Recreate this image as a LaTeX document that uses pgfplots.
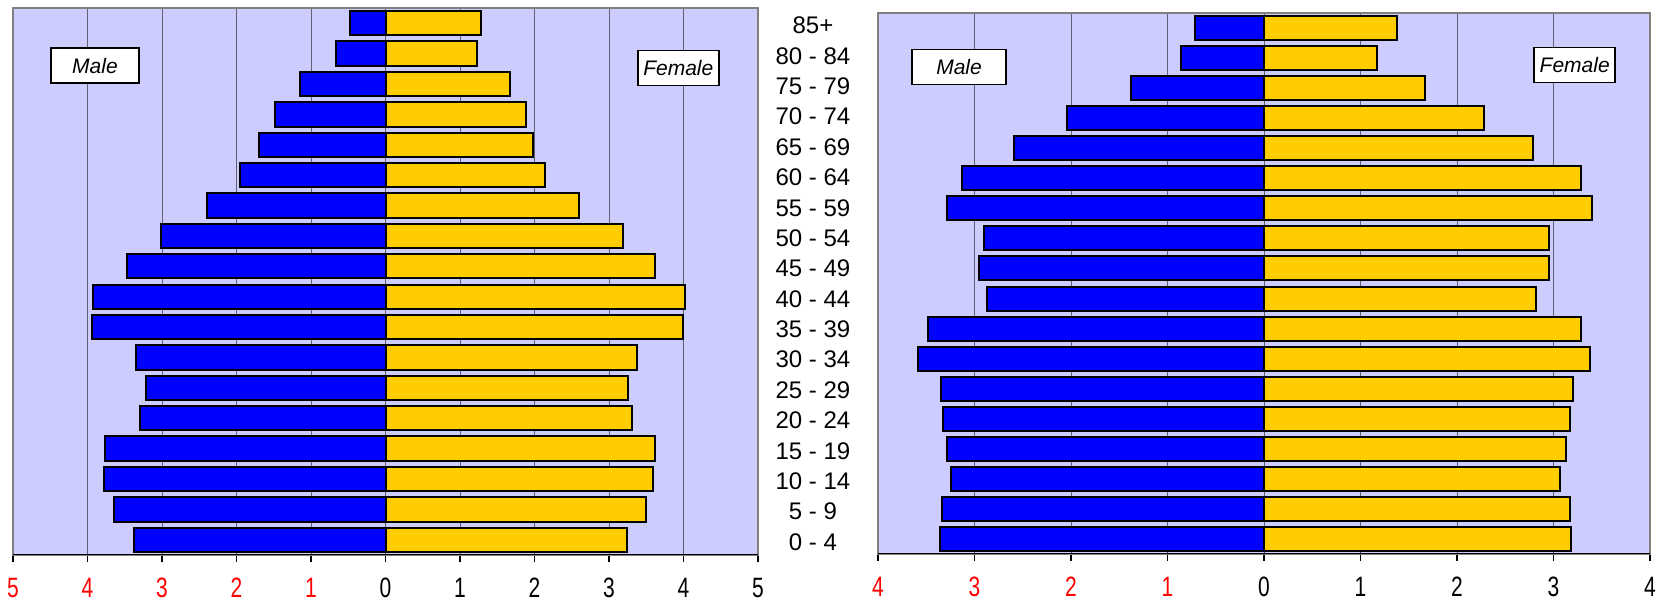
\documentclass[border=0pt]{standalone}
\usepackage{pgfplots}
\pgfplotsset{compat=1.18}
\usepackage{graphicx}
\usepackage{fontspec}
\setmainfont{Liberation Sans}

\definecolor{bgLilac}{RGB}{204,204,255}
\definecolor{barBlue}{RGB}{0,0,255}
\definecolor{barGold}{RGB}{255,204,0}
\definecolor{frameGray}{RGB}{128,128,128}
\definecolor{gridGray}{RGB}{96,96,112}

% tall, narrow tick digits, as in the original
\newcommand{\nar}[1]{\scalebox{0.75}[1]{#1}}

\pgfplotsset{
  pyramid/.style={
    scale only axis,
    xbar, bar shift=0pt, bar width=0.8,
    ymin=-0.5, ymax=17.5,
    axis background/.style={fill=bgLilac},
    axis line style={draw=frameGray, line width=1pt},
    xmajorgrids, grid style={draw=gridGray, line width=0.5pt},
    xtick pos=left, tick align=outside, major tick length=3.5pt,
    xtick style={black, line width=0.6pt},
    ytick style={draw=none},
    yticklabel style={font=\fontsize{12}{14}\selectfont},
    xticklabel style={font=\fontsize{14}{16}\selectfont, inner sep=0pt, yshift=-8pt},
    every axis plot/.append style={draw=black, line width=1pt},
  },
}
\tikzset{
  sexbox/.style={draw=black, fill=white, line width=0.8pt,
    font=\fontsize{10.5}{12}\selectfont\itshape,
    minimum height=17.5pt, inner sep=1pt},
}

\begin{document}
\begin{tikzpicture}
\path[use as bounding box] (0,0) rectangle (830pt,302.5pt);

% ---- left pyramid ----
\begin{axis}[pyramid,
  at={(6.5pt,25pt)}, anchor=south west,
  width=372.5pt, height=273.5pt,
  xmin=-5, xmax=5,
  xtick={-5,...,5},
  xticklabels={\textcolor{red}{\nar{5}},\textcolor{red}{\nar{4}},\textcolor{red}{\nar{3}},\textcolor{red}{\nar{2}},\textcolor{red}{\nar{1}},\nar{0},\nar{1},\nar{2},\nar{3},\nar{4},\nar{5}},
  ytick=\empty,
]
\addplot[fill=barBlue] coordinates {
  (-3.38,0) (-3.65,1) (-3.78,2) (-3.77,3) (-3.30,4) (-3.22,5)
  (-3.35,6) (-3.94,7) (-3.93,8) (-3.47,9) (-3.02,10) (-2.40,11)
  (-1.95,12) (-1.70,13) (-1.48,14) (-1.15,15) (-0.67,16) (-0.48,17)
};
\addplot[fill=barGold] coordinates {
  (3.24,0) (3.49,1) (3.59,2) (3.62,3) (3.31,4) (3.25,5)
  (3.38,6) (3.99,7) (4.02,8) (3.62,9) (3.19,10) (2.60,11)
  (2.14,12) (1.98,13) (1.88,14) (1.67,15) (1.23,16) (1.28,17)
};
\draw[black, line width=0.8pt] (rel axis cs:0,0) -- (rel axis cs:1,0);
\node[sexbox, minimum width=44pt] at (axis cs:-3.9,15.6) {Male};
\node[sexbox, minimum width=40.5pt] at (axis cs:3.93,15.53) {Female};
\end{axis}

% ---- right pyramid ----
\begin{axis}[pyramid,
  at={(439pt,25.5pt)}, anchor=south west,
  width=386pt, height=270.5pt,
  xmin=-4, xmax=4,
  xtick={-4,...,4},
  xticklabels={\textcolor{red}{\nar{4}},\textcolor{red}{\nar{3}},\textcolor{red}{\nar{2}},\textcolor{red}{\nar{1}},\nar{0},\nar{1},\nar{2},\nar{3},\nar{4}},
  % age labels sit on a slightly wider pitch than the bars
  ytick={-0.1,0.9106,...,17.1},
  yticklabels={0 - 4,5 - 9,10 - 14,15 - 19,20 - 24,25 - 29,30 - 34,35 - 39,40 - 44,45 - 49,50 - 54,55 - 59,60 - 64,65 - 69,70 - 74,75 - 79,80 - 84,85+},
  yticklabel style={anchor=center, xshift=-29pt},
]
\addplot[fill=barBlue] coordinates {
  (-3.36,0) (-3.34,1) (-3.24,2) (-3.28,3) (-3.33,4) (-3.35,5)
  (-3.59,6) (-3.48,7) (-2.87,8) (-2.95,9) (-2.90,10) (-3.28,11)
  (-3.13,12) (-2.59,13) (-2.04,14) (-1.38,15) (-0.86,16) (-0.72,17)
};
\addplot[fill=barGold] coordinates {
  (3.18,0) (3.17,1) (3.07,2) (3.13,3) (3.17,4) (3.20,5)
  (3.38,6) (3.29,7) (2.82,8) (2.95,9) (2.95,10) (3.40,11)
  (3.29,12) (2.79,13) (2.28,14) (1.67,15) (1.17,16) (1.38,17)
};
\draw[black, line width=0.8pt] (rel axis cs:0,0) -- (rel axis cs:1,0);
\node[sexbox, minimum width=47pt] at (axis cs:-3.16,15.7) {Male};
\node[sexbox, minimum width=40.5pt] at (axis cs:3.22,15.77) {Female};
\end{axis}
\end{tikzpicture}
\end{document}
